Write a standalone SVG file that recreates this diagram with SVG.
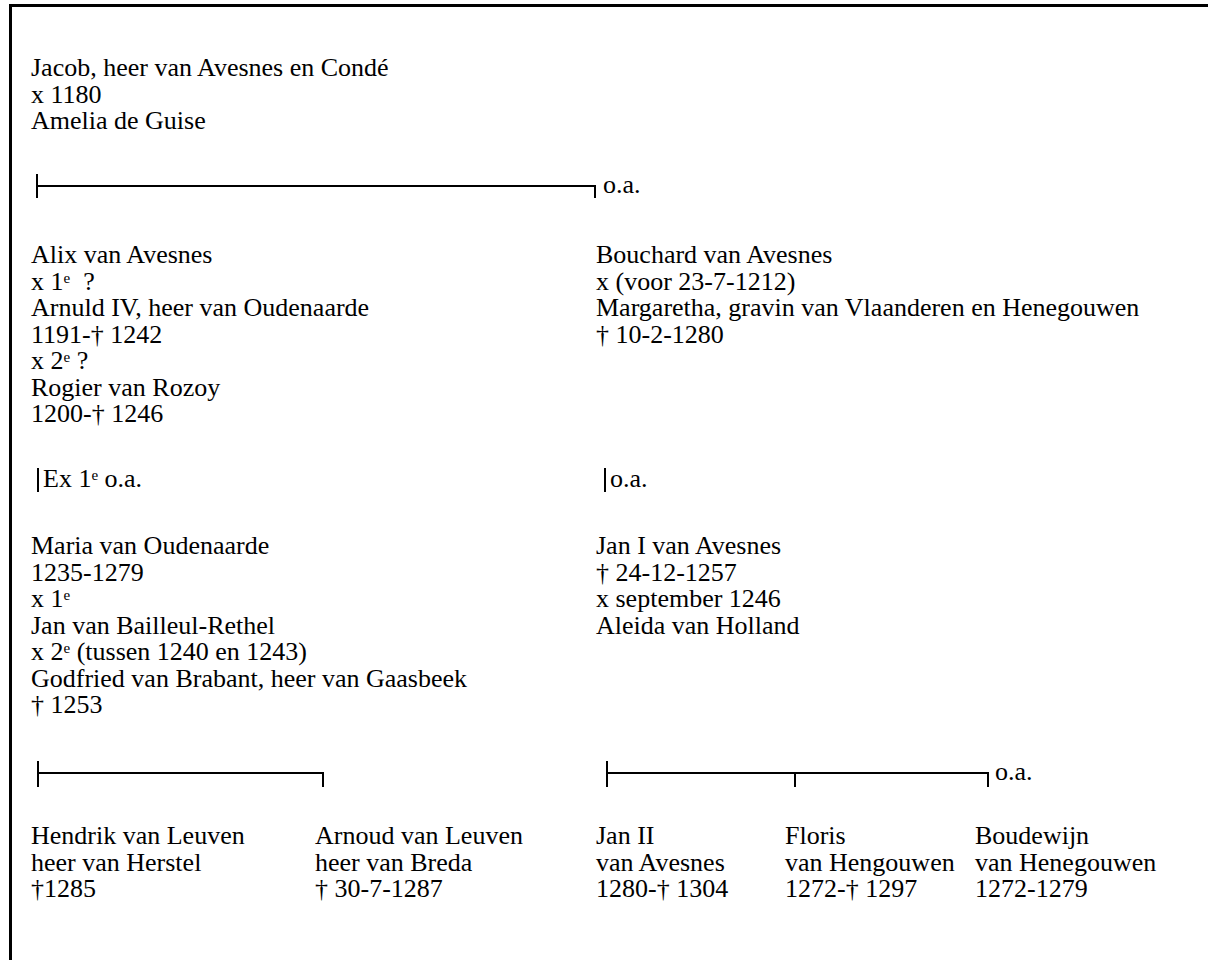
<svg xmlns="http://www.w3.org/2000/svg" width="1208" height="960" viewBox="0 0 1208 960">
<style>
.t text{font-size:26px;fill:#000}
.sup{font-size:15px}
.ln{stroke:#000;stroke-width:2;fill:none}
.frame{stroke:#000;stroke-width:3;fill:none}
</style>
<rect x="0" y="0" width="1208" height="960" fill="#fff"/>
<path class="frame" d="M10.5 960V5.5H1208"/>
<g class="t" font-family="Liberation Serif, Times New Roman, serif">
<g id="jacob"><text x="31" y="76">Jacob, heer van Avesnes en Condé</text><text x="31" y="102.5">x 1180</text><text x="31" y="129">Amelia de Guise</text></g>
<g id="alix"><text x="31" y="263">Alix van Avesnes</text><text x="31" y="289.5" xml:space="preserve">x 1<tspan class="sup" dy="-7">e</tspan><tspan dy="7">  ?</tspan></text><text x="31" y="316">Arnuld IV, heer van Oudenaarde</text><text x="31" y="342.5">1191-† 1242</text><text x="31" y="369">x 2<tspan class="sup" dy="-7">e</tspan><tspan dy="7"> ?</tspan></text><text x="31" y="395.5">Rogier van Rozoy</text><text x="31" y="422">1200-† 1246</text></g>
<g id="bouchard"><text x="596" y="263">Bouchard van Avesnes</text><text x="596" y="289.5">x (voor 23-7-1212)</text><text x="596" y="316">Margaretha, gravin van Vlaanderen en Henegouwen</text><text x="596" y="342.5">† 10-2-1280</text></g>
<g id="maria"><text x="31" y="554">Maria van Oudenaarde</text><text x="31" y="580.5">1235-1279</text><text x="31" y="607">x 1<tspan class="sup" dy="-7">e</tspan></text><text x="31" y="633.5">Jan van Bailleul-Rethel</text><text x="31" y="660">x 2<tspan class="sup" dy="-7">e</tspan><tspan dy="7"> (tussen 1240 en 1243)</tspan></text><text x="31" y="686.5">Godfried van Brabant, heer van Gaasbeek</text><text x="31" y="713">† 1253</text></g>
<g id="jan1"><text x="596" y="554">Jan I van Avesnes</text><text x="596" y="580.5">† 24-12-1257</text><text x="596" y="607">x september 1246</text><text x="596" y="633.5">Aleida van Holland</text></g>
<g id="hendrik"><text x="31" y="844">Hendrik van Leuven</text><text x="31" y="870.5">heer van Herstel</text><text x="31" y="897">†1285</text></g>
<g id="arnoud"><text x="315" y="844">Arnoud van Leuven</text><text x="315" y="870.5">heer van Breda</text><text x="315" y="897">† 30-7-1287</text></g>
<g id="jan2"><text x="596" y="844">Jan II</text><text x="596" y="870.5">van Avesnes</text><text x="596" y="897">1280-† 1304</text></g>
<g id="floris"><text x="785" y="844">Floris</text><text x="785" y="870.5">van Hengouwen</text><text x="785" y="897">1272-† 1297</text></g>
<g id="boudewijn"><text x="975" y="844">Boudewijn</text><text x="975" y="870.5">van Henegouwen</text><text x="975" y="897">1272-1279</text></g>
<g id="connectors">
<path class="ln" d="M37 174V198M37 186H595V198"/>
<text x="603" y="193">o.a.</text>
<path class="ln" d="M38 468V492"/>
<text x="43" y="487">Ex 1<tspan class="sup" dy="-7">e</tspan><tspan dy="7"> o.a.</tspan></text>
<path class="ln" d="M605 468V492"/>
<text x="610" y="487">o.a.</text>
<path class="ln" d="M38 761V787M38 773H323V787"/>
<path class="ln" d="M607 761V787M607 773H988V787M795 773V787"/>
<text x="995" y="780">o.a.</text>
</g>
</g>
</svg>
